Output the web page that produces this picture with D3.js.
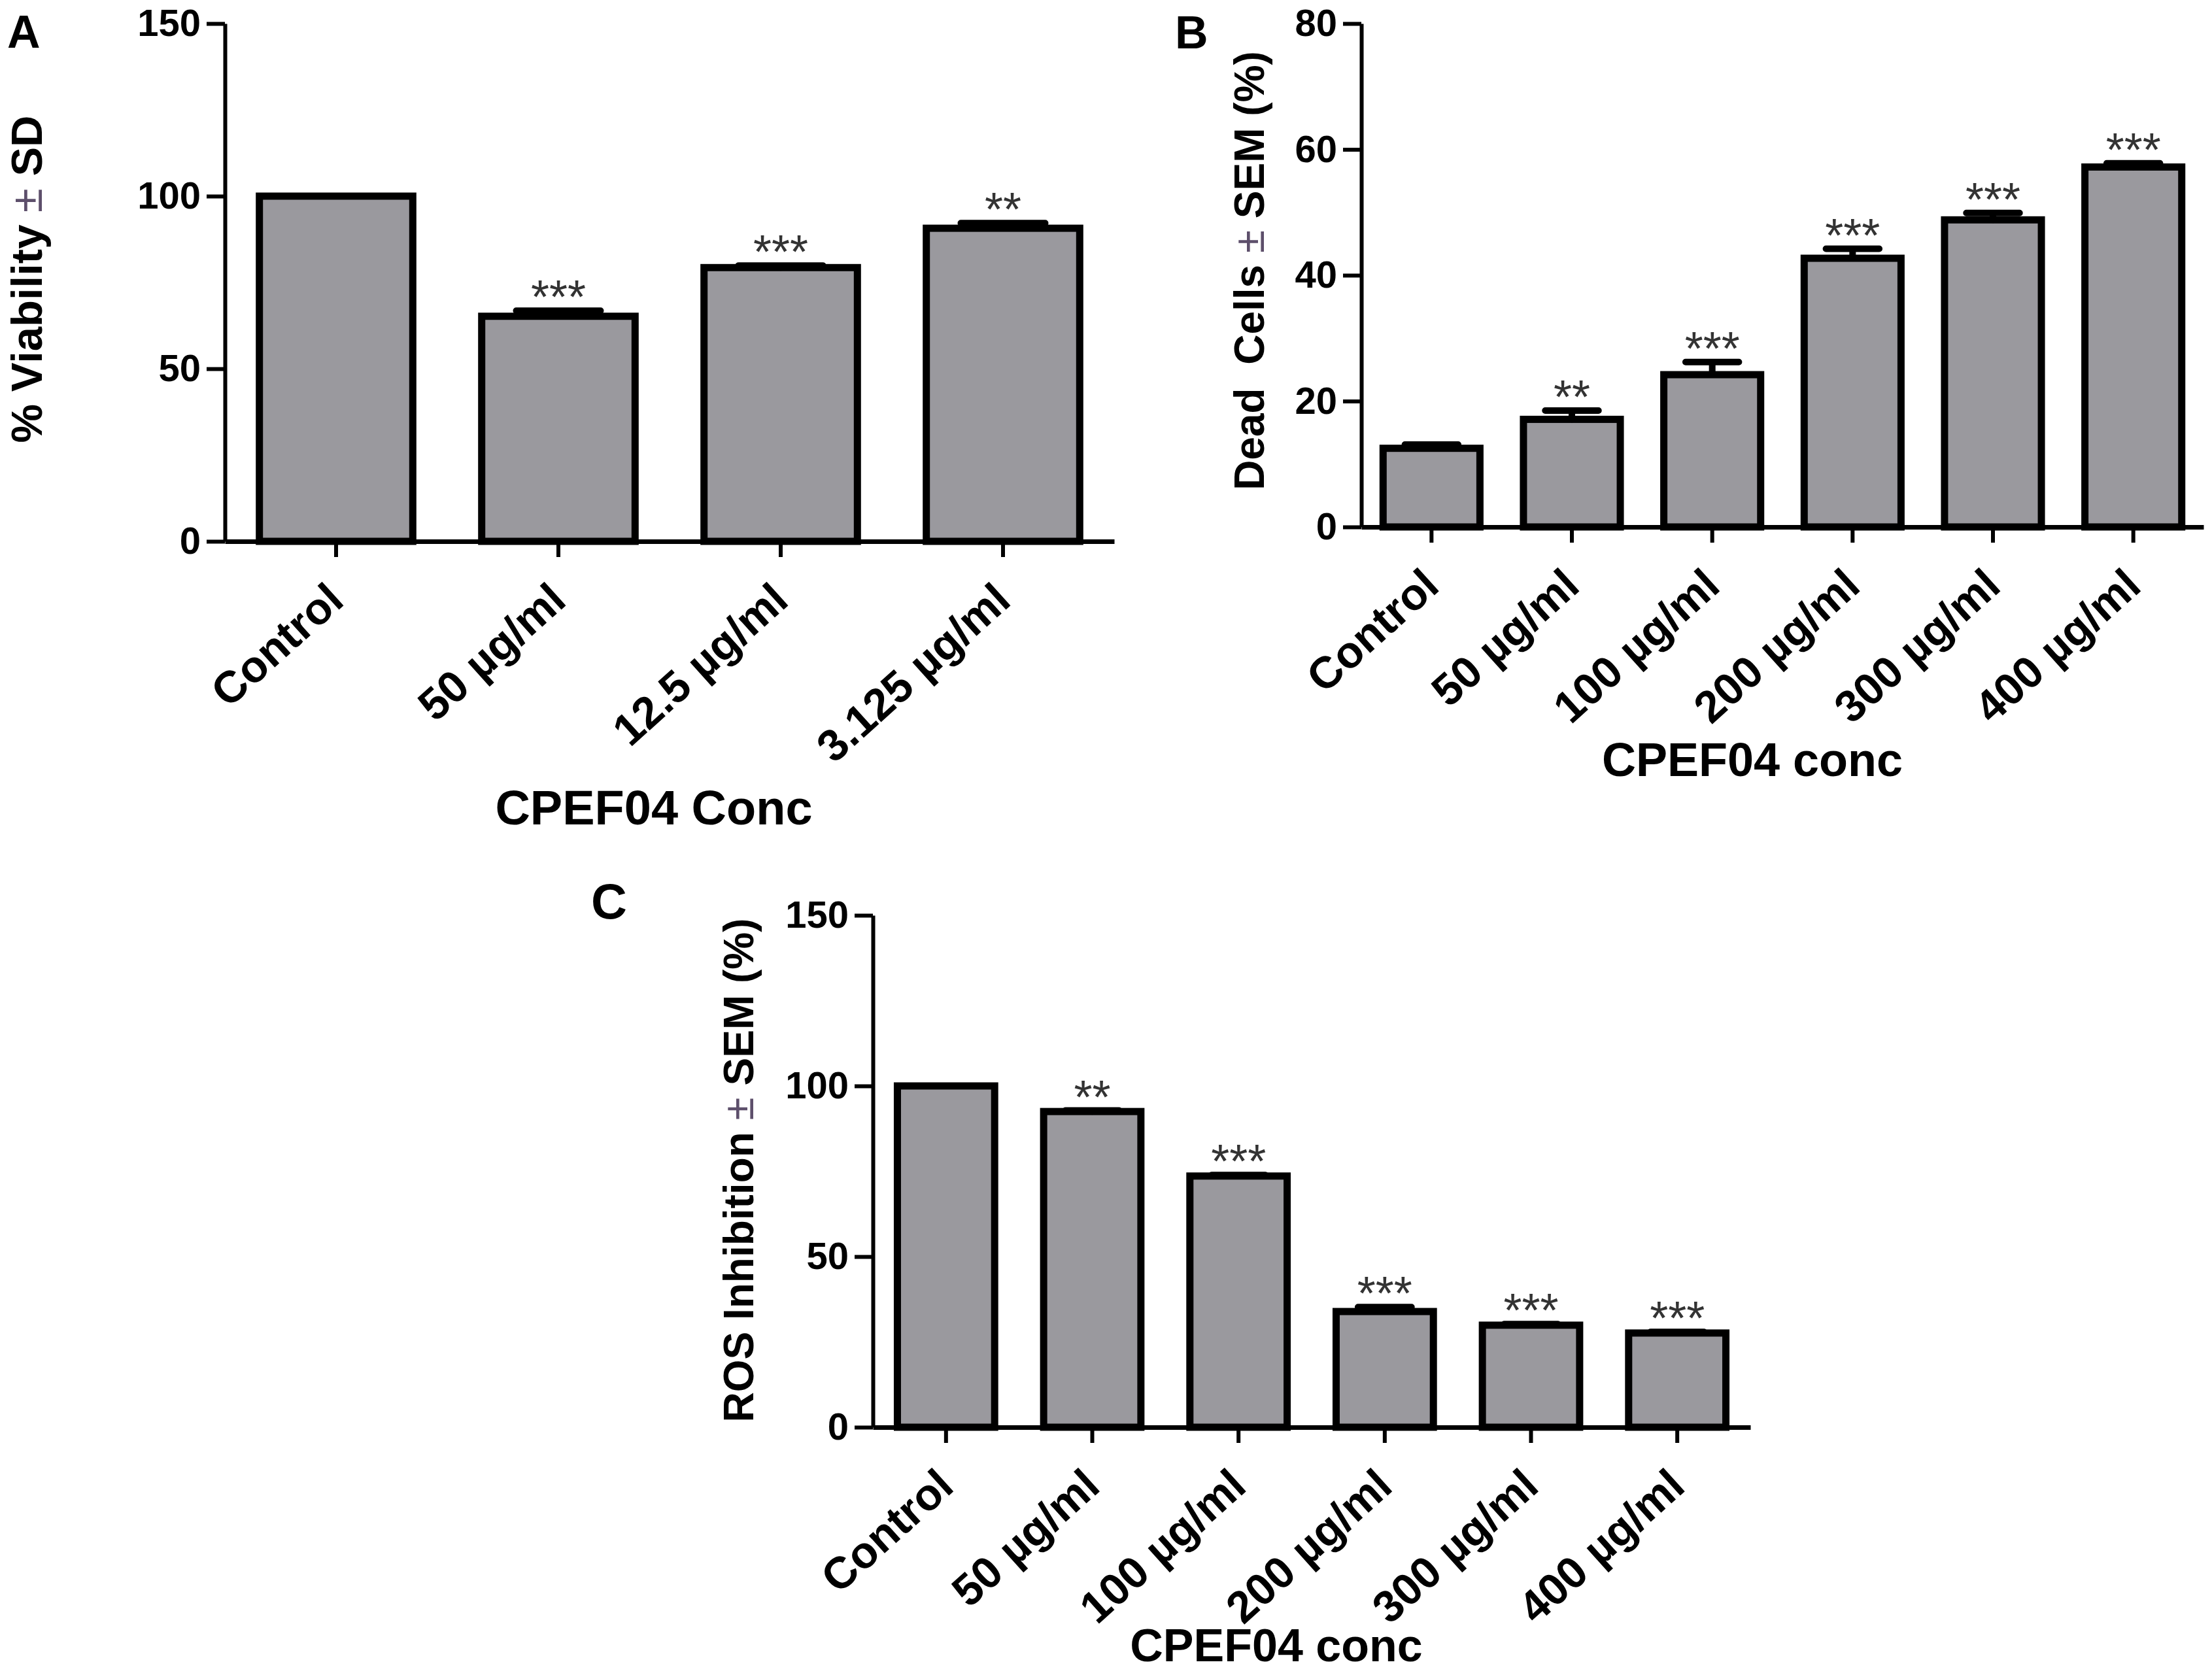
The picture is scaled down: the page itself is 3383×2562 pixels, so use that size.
<!DOCTYPE html>
<html>
<head>
<meta charset="utf-8">
<script src="https://cdn.jsdelivr.net/npm/d3@7"></script>
<style>
  html, body { margin: 0; padding: 0; background: #fff; }
  svg { display: block; }
  text { font-family: "Liberation Sans", Arial, Helvetica, sans-serif; }
</style>
</head>
<body>
<svg id="chart" width="3383" height="2562"></svg>
<script>
// ---------------- DATA ----------------
const catsA  = ["Control", "50 µg/ml", "12.5 µg/ml", "3.125 µg/ml"];
const valsA  = [100, 65.2, 79.3, 90.7];
const errA   = [0, 1.6, 0.6, 1.5];
const sigA   = ["", "***", "***", "**"];
const ticksA = [0, 50, 100, 150];

const catsB  = ["Control", "50 µg/ml", "100 µg/ml", "200 µg/ml", "300 µg/ml", "400 µg/ml"];
const valsB  = [12.5, 17.1, 24.2, 42.7, 48.8, 57.2];
const errB   = [0.6, 1.4, 2.0, 1.5, 1.1, 0.6];
const sigB   = ["", "**", "***", "***", "***", "***"];
const ticksB = [0, 20, 40, 60, 80];

const catsC  = ["Control", "50 µg/ml", "100 µg/ml", "200 µg/ml", "300 µg/ml", "400 µg/ml"];
const valsC  = [100, 92.5, 73.6, 33.9, 29.9, 27.6];
const errC   = [0, 0.3, 0.3, 1.3, 0.3, 0.3];
const sigC   = ["", "**", "***", "***", "***", "***"];
const ticksC = [0, 50, 100, 150];

// ---------------- LAYOUT ----------------
const panels = [
  { letter: "A", letterX: 11, letterY: 73, letterSize: 70,
    cats: catsA, vals: valsA, errs: errA, sig: sigA, ticks: ticksA, ymax: 150,
    x0: 344, x1: 1704, y0: 828, y1: 36, barFrac: 0.69,
    yTitle: ["% Viability ", "±", " SD"], yTitleX: 64, yTitleY: 427, yTitleSize: 67,
    xTitle: "CPEF04 Conc", xTitleX: 1000, xTitleY: 1261, xTitleSize: 74 },
  { letter: "B", letterX: 1797, letterY: 74, letterSize: 70,
    cats: catsB, vals: valsB, errs: errB, sig: sigB, ticks: ticksB, ymax: 80,
    x0: 2082, x1: 3370, y0: 806, y1: 36, barFrac: 0.69,
    yTitle: ["Dead  Cells ", "±", " SEM (%)"], yTitleX: 1933, yTitleY: 414, yTitleSize: 64,
    xTitle: "CPEF04 conc", xTitleX: 2680, xTitleY: 1187, xTitleSize: 72 },
  { letter: "C", letterX: 904, letterY: 1405, letterSize: 76,
    cats: catsC, vals: valsC, errs: errC, sig: sigC, ticks: ticksC, ymax: 150,
    x0: 1335, x1: 2677, y0: 2183, y1: 1400, barFrac: 0.665,
    yTitle: ["ROS Inhibition ", "±", " SEM (%)"], yTitleX: 1152, yTitleY: 1790, yTitleSize: 64,
    xTitle: "CPEF04 conc", xTitleX: 1952, xTitleY: 2541, xTitleSize: 70 }
];

const svg = d3.select("#chart");
const BAR_FILL = "#9a999e";

panels.forEach(p => {
  const g = svg.append("g");

  const x = d3.scaleBand().domain(p.cats).range([p.x0, p.x1]).paddingInner(0).paddingOuter(0);
  const y = d3.scaleLinear().domain([0, p.ymax]).range([p.y0, p.y1]);
  const bw = x.bandwidth() * p.barFrac;
  const cx = c => x(c) + x.bandwidth() / 2;

  const data = p.cats.map((c, i) => ({ c, v: p.vals[i], e: p.errs[i], s: p.sig[i] }));

  // bars
  g.selectAll("rect.bar").data(data).enter().append("rect")
    .attr("class", "bar")
    .attr("x", d => cx(d.c) - bw / 2)
    .attr("width", bw)
    .attr("y", d => y(d.v))
    .attr("height", d => y(0) - y(d.v))
    .attr("fill", BAR_FILL)
    .attr("stroke", "#000")
    .attr("stroke-width", 11);

  // error bars (upper only)
  const capW = bw * 0.55;
  g.selectAll("path.err").data(data.filter(d => d.e > 0)).enter().append("path")
    .attr("class", "err")
    .attr("d", d => `M${cx(d.c)},${y(d.v)}V${y(d.v + d.e)}M${cx(d.c) - capW / 2},${y(d.v + d.e)}H${cx(d.c) + capW / 2}`)
    .attr("stroke", "#000")
    .attr("stroke-width", 10)
    .attr("stroke-linecap", "round")
    .attr("fill", "none");

  // significance stars
  g.selectAll("text.sig").data(data.filter(d => d.s)).enter().append("text")
    .attr("class", "sig")
    .attr("x", d => cx(d.c))
    .attr("y", d => y(d.v + d.e) + 4)
    .attr("text-anchor", "middle")
    .attr("font-size", 72)
    .attr("fill", "#333")
    .text(d => d.s);

  // y axis
  const yAxis = g.append("g")
    .attr("transform", `translate(${p.x0},0)`)
    .call(d3.axisLeft(y).tickValues(p.ticks).tickSize(28).tickSizeOuter(0).tickPadding(9).tickFormat(d3.format("d")));
  yAxis.select(".domain").attr("stroke", "#000").attr("stroke-width", 6);
  yAxis.selectAll(".tick line").attr("stroke", "#000").attr("stroke-width", 6);
  yAxis.selectAll(".tick text")
    .attr("font-size", 58).attr("font-weight", "bold").attr("fill", "#000")
    .attr("font-family", "'Liberation Sans', Arial, sans-serif");

  // x axis
  const xAxis = g.append("g")
    .attr("transform", `translate(0,${p.y0})`)
    .call(d3.axisBottom(x).tickSize(24).tickSizeOuter(0));
  xAxis.select(".domain").attr("stroke", "#000").attr("stroke-width", 7);
  xAxis.selectAll(".tick line").attr("stroke", "#000").attr("stroke-width", 6);
  xAxis.selectAll(".tick text")
    .attr("font-size", 68).attr("font-weight", "bold").attr("fill", "#000")
    .attr("font-family", "'Liberation Sans', Arial, sans-serif")
    .attr("text-anchor", "end")
    .attr("x", 0).attr("y", 0).attr("dy", 0)
    .attr("transform", "translate(15,95) rotate(-42)");

  // y title
  const yt = g.append("text")
    .attr("transform", `translate(${p.yTitleX},${p.yTitleY}) rotate(-90)`)
    .attr("text-anchor", "middle")
    .attr("font-size", p.yTitleSize)
    .attr("font-weight", "bold")
    .attr("fill", "#000")
    .style("white-space", "pre");
  yt.append("tspan").text(p.yTitle[0]);
  yt.append("tspan").attr("font-weight", "normal").attr("fill", "#5d4f6b").text(p.yTitle[1]);
  yt.append("tspan").text(p.yTitle[2]);

  // x title
  g.append("text")
    .attr("x", p.xTitleX).attr("y", p.xTitleY)
    .attr("text-anchor", "middle")
    .attr("font-size", p.xTitleSize)
    .attr("font-weight", "bold")
    .attr("fill", "#000")
    .text(p.xTitle);

  // panel letter
  g.append("text")
    .attr("x", p.letterX).attr("y", p.letterY)
    .attr("font-size", p.letterSize)
    .attr("font-weight", "bold")
    .attr("fill", "#000")
    .text(p.letter);
});
</script>
</body>
</html>
